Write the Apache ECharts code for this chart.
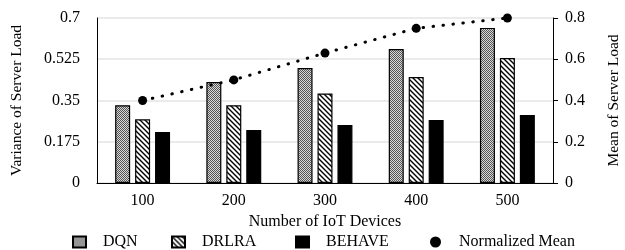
<!DOCTYPE html>
<html>
<head>
    <meta charset="utf-8">
    <title>Server Load</title>
    <script src="https://cdn.jsdelivr.net/npm/echarts@6/dist/echarts.min.js"></script>
    <style>
        html, body { margin: 0; padding: 0; background: #fff; }
    </style>
</head>
<body>
    <div id="main" style="width: 625px;height:250px;"></div>
    <script type="text/javascript">

// data
var devices = ['100', '200', '300', '400', '500'];
var dqn = [0.33, 0.428, 0.488, 0.568, 0.658];
var drlra = [0.27, 0.33, 0.38, 0.45, 0.53];
var behave = [0.216, 0.225, 0.246, 0.267, 0.288];
var normMean = [0.4, 0.5, 0.63, 0.75, 0.8];
var leftTicks = [0, 0.175, 0.35, 0.525, 0.7];

// fill patterns
function stipple() {
    var c = document.createElement('canvas');
    c.width = 2; c.height = 2;
    var g = c.getContext('2d');
    g.fillStyle = '#d8d8d8'; g.fillRect(0, 0, 2, 2);
    g.fillStyle = '#555'; g.fillRect(0, 0, 1, 1); g.fillRect(1, 1, 1, 1);
    return c;
}
function hatch() {
    var c = document.createElement('canvas');
    c.width = 5; c.height = 5;
    var g = c.getContext('2d');
    g.fillStyle = '#fff'; g.fillRect(0, 0, 5, 5);
    g.strokeStyle = '#000'; g.lineWidth = 1.4;
    g.beginPath();
    g.moveTo(-1, -1); g.lineTo(6, 6);
    g.moveTo(-1, 4); g.lineTo(1, 6);
    g.moveTo(4, -1); g.lineTo(6, 1);
    g.stroke();
    return c;
}

var font = 'Liberation Serif';
var myChart = echarts.init(document.getElementById('main'));

var barBorder = { borderColor: '#000', borderWidth: 1.2 };
var legendText = { fontFamily: font, fontSize: 16, color: '#000', padding: [0, 0, 0, 12] };

// one legend per item so each sits where it is in the figure
function legendAt(left, name, icon) {
    return {
        left: left,
        top: 234,
        padding: 0,
        itemWidth: 13,
        itemHeight: 11,
        textStyle: legendText,
        data: [{ name: name, icon: icon }]
    };
}

var option = {
    animation: false,
    backgroundColor: '#fff',
    textStyle: { fontFamily: font, color: '#000' },
    grid: { left: 97, right: 72, top: 18, bottom: 67, containLabel: false, outerBoundsMode: 'none' },
    legend: [
        legendAt(72, 'DQN', 'rect'),
        legendAt(171, 'DRLRA', 'rect'),
        legendAt(295, 'BEHAVE', 'rect'),
        legendAt(430, 'Normalized Mean', 'circle')
    ],
    xAxis: {
        type: 'category',
        data: devices,
        name: 'Number of IoT Devices',
        nameLocation: 'middle',
        nameGap: 31,
        nameTextStyle: { fontFamily: font, fontSize: 16, color: '#000' },
        axisLine: { lineStyle: { color: '#000', width: 1 } },
        axisTick: { show: false },
        axisLabel: { fontFamily: font, fontSize: 16, color: '#000', margin: 10 }
    },
    yAxis: [{
        type: 'value',
        min: 0,
        max: 0.7,
        interval: 0.175,
        name: 'Variance of Server Load',
        nameLocation: 'middle',
        nameGap: 72,
        nameTextStyle: { fontFamily: font, fontSize: 15.5, color: '#000' },
        axisLine: { show: true, lineStyle: { color: '#000', width: 1 } },
        axisTick: { show: false },
        axisLabel: {
            fontFamily: font, fontSize: 16, color: '#000', margin: 17,
            formatter: function (v) {
                for (var i = 0; i < leftTicks.length; i++) {
                    if (Math.abs(v - leftTicks[i]) < 1e-6) return String(leftTicks[i]);
                }
                return '';
            }
        },
        splitLine: { lineStyle: { color: '#e4e4e4', width: 1.5 } }
    }, {
        type: 'value',
        min: 0,
        max: 0.8,
        interval: 0.2,
        position: 'right',
        name: 'Mean of Server Load',
        nameLocation: 'middle',
        nameRotate: 90,
        nameGap: 53,
        nameTextStyle: { fontFamily: font, fontSize: 15.5, color: '#000' },
        axisLine: { show: true, lineStyle: { color: '#000', width: 1 } },
        axisTick: { show: true, length: 5, inside: false, lineStyle: { color: '#000' } },
        axisLabel: { fontFamily: font, fontSize: 16, color: '#000', margin: 12 },
        splitLine: { show: false }
    }],
    series: [{
        name: 'DQN',
        type: 'bar',
        barWidth: 15,
        barGap: '33%',
        data: dqn,
        itemStyle: Object.assign({ color: { image: stipple(), repeat: 'repeat' } }, barBorder)
    }, {
        name: 'DRLRA',
        type: 'bar',
        barWidth: 15,
        barGap: '33%',
        data: drlra,
        itemStyle: Object.assign({ color: { image: hatch(), repeat: 'repeat' } }, barBorder)
    }, {
        name: 'BEHAVE',
        type: 'bar',
        barWidth: 15,
        barGap: '33%',
        data: behave,
        itemStyle: Object.assign({ color: '#000' }, barBorder)
    }, {
        name: 'Normalized Mean',
        type: 'line',
        yAxisIndex: 1,
        data: normMean,
        symbol: 'circle',
        symbolSize: 9,
        z: 5,
        itemStyle: { color: '#000' },
        lineStyle: { color: '#000', width: 3, type: [0.5, 9.5], cap: 'round' }
    }]
};

myChart.setOption(option);

    </script>
</body>
</html>
